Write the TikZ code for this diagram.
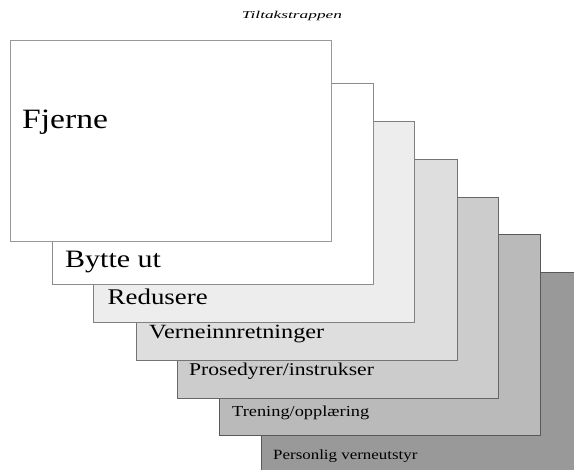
\documentclass[tikz,border=0pt]{standalone}
\usepackage{fontspec}
\setmainfont{Liberation Serif}[FakeStretch=1.2]
\newfontfamily\titlefont{Liberation Serif}[FakeStretch=1.65]
\begin{document}
\begin{tikzpicture}[x=1pt,y=-1pt,
  stepbox/.style={draw=#1, line width=0.9pt, minimum width=321pt, minimum height=201pt, anchor=north west, inner sep=0pt, outer sep=0pt},
  lbl/.style={anchor=base west, inner sep=0pt, text=black}]
\useasboundingbox (0,0) rectangle (574,470);
\clip (0,0) rectangle (574,470);
\node[stepbox=black!65, fill=black!40] (r7) at (261,272) {};
\node[stepbox=black!65, fill=black!27] (r6) at (219,234) {};
\node[stepbox=black!60, fill=black!20] (r5) at (177,197) {};
\node[stepbox=black!55, fill=black!13] (r4) at (136,159) {};
\node[stepbox=black!50, fill=black!7] (r3) at (93,121) {};
\node[stepbox=black!45, fill=white] (r2) at (52,83) {};
\node[stepbox=black!40, fill=white] (r1) at (10,40) {};
\node[lbl, font=\fontsize{28}{32}\selectfont] (t1) at (22,129) {Fjerne};
\node[lbl, font=\fontsize{25}{29}\selectfont] (t2) at (65,267.5) {Bytte ut};
\node[lbl, font=\fontsize{22.4}{26}\selectfont] (t3) at (107.5,305) {Redusere};
\node[lbl, font=\fontsize{20.2}{24}\selectfont] (t4) at (149,338.5) {Verneinnretninger};
\node[lbl, font=\fontsize{18}{22}\selectfont] (t5) at (189,375.7) {Prosedyrer/instrukser};
\node[lbl, font=\fontsize{15.3}{18}\selectfont] (t6) at (232,416.7) {Trening/opplæring};
\node[lbl, font=\fontsize{14.1}{17}\selectfont] (t7) at (273,460) {Personlig verneutstyr};
\node[anchor=base, inner sep=0pt, font=\titlefont\itshape\fontsize{10.5}{12}\selectfont] (title) at (292,18.3) {Tiltakstrappen};
\end{tikzpicture}
\end{document}
